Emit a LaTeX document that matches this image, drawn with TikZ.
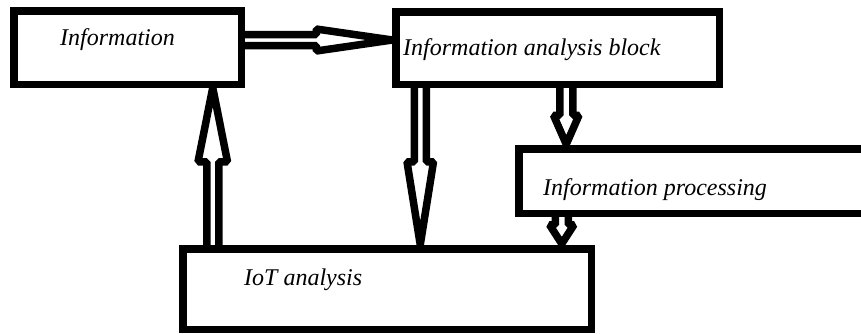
\documentclass[tikz,border=0pt]{standalone}
\usepackage{fontspec}
\setmainfont{Liberation Serif}
\usetikzlibrary{calc}

% Outlined (hollow) block arrow from #1 to the tip #2.
% #3 shaft half-width, #4 head half-width, #5 head length, #6 name prefix
\newcommand{\hollowarrow}[6]{%
  \coordinate (#6-base) at ($(#2)!#5!(#1)$);
  \draw[arrowline]
    ($(#1)!#3!90:(#2)$) -- ($(#6-base)!#3!90:(#2)$)
    -- ($(#6-base)!#4!90:(#2)$) -- (#2)
    -- ($(#6-base)!#4!-90:(#2)$) -- ($(#6-base)!#3!-90:(#2)$)
    -- ($(#1)!#3!-90:(#2)$);%
}

\tikzset{
  box/.style={draw=black, line width=7.5pt, rectangle, inner sep=0pt, outer sep=0pt},
  lbl/.style={font=\fontsize{24}{28}\selectfont\itshape, anchor=base west, inner sep=0pt},
  arrowline/.style={draw=black, line width=7.5pt, line join=bevel}
}

\begin{document}
\begin{tikzpicture}[x=1pt, y=-1pt]
  \clip (0,0) rectangle (861,333);

  % blocks
  \node[box, minimum width=227.5pt, minimum height=73.5pt] (info) at (127.5,47.5) {};
  \node[box, minimum width=323.5pt, minimum height=72.5pt] (block) at (557.5,48) {};
  \node[box, minimum width=361.25pt, minimum height=64.5pt] (proc) at (699.375,181) {};
  \node[box, minimum width=408.5pt, minimum height=80.5pt] (iot) at (387,289) {};

  % captions
  \node[lbl] (infoText) at (60,45) {Information};
  \node[lbl] (blockText) at (403,55) {Information analysis block};
  \node[lbl] (procText) at (543,195) {Information processing};
  \node[lbl] (iotText) at (244,285) {IoT analysis};

  % connector end points on the block borders
  \coordinate (a1s) at ($(info.east)+(0,-7.5)$);
  \coordinate (a1e) at ($(block.west)+(-3.5,-8)$);
  \coordinate (a2s) at ($(iot.north west)+(30,0)$);
  \coordinate (a2e) at ($(info.south west)+(199,3.5)$);
  \coordinate (a3s) at ($(block.south west)+(24.5,0)$);
  \coordinate (a3e) at ($(iot.north west)+(237.5,-4)$);
  \coordinate (a4s) at ($(block.south west)+(170.5,0)$);
  \coordinate (a4e) at ($(proc.north west)+(47.5,-4.5)$);
  \coordinate (a5s) at ($(proc.south west)+(43,0)$);
  \coordinate (a5e) at ($(iot.north west)+(379,-5)$);

  % connectors
  \hollowarrow{a1s}{a1e}{5.5pt}{11pt}{76pt}{c1}
  \hollowarrow{a2s}{a2e}{6pt}{14.75pt}{74pt}{c2}
  \hollowarrow{a3s}{a3e}{6pt}{13.25pt}{83pt}{c3}
  \hollowarrow{a4s}{a4e}{6.5pt}{12.75pt}{29pt}{c4}
  \hollowarrow{a5s}{a5e}{6.5pt}{12.25pt}{19pt}{c5}
\end{tikzpicture}
\end{document}
